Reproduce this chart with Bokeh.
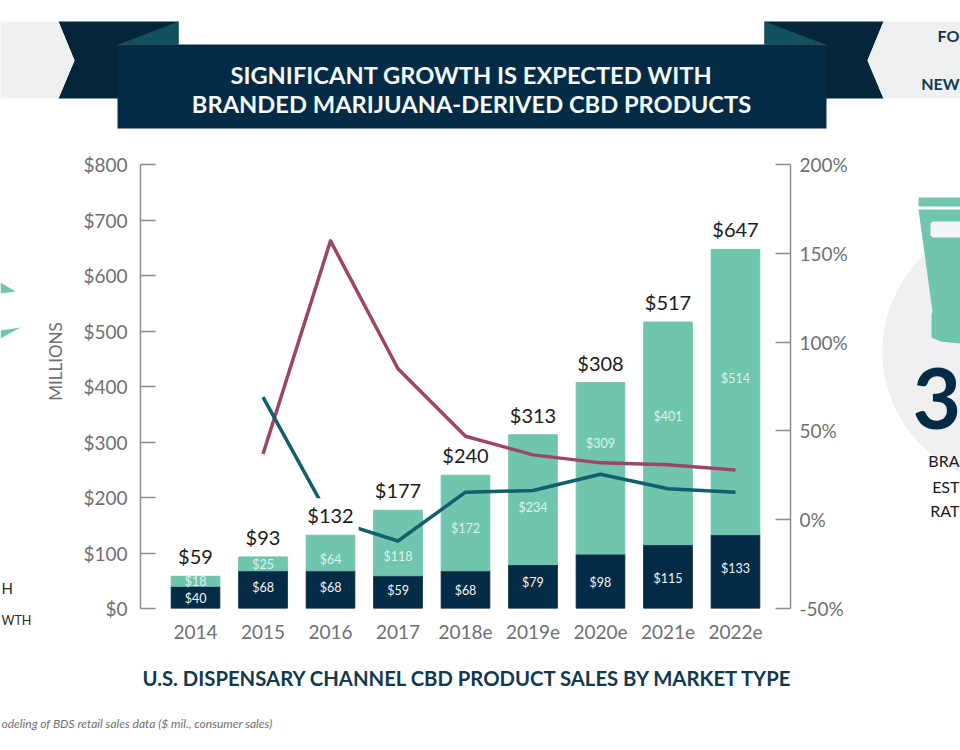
from bokeh.plotting import figure
from bokeh.embed import file_html
from bokeh.resources import INLINE
from bokeh.layouts import column
from bokeh.models import Range1d, LinearAxis, FixedTicker, ColumnDataSource
from bokeh.core.properties import value
import math

years = ["2014", "2015", "2016", "2017", "2018e", "2019e", "2020e", "2021e", "2022e"]
medical = [40, 68, 68, 59, 68, 79, 98, 115, 133]
adult_use = [18, 25, 64, 118, 172, 234, 309, 401, 514]
total_labels = ["$59", "$93", "$132", "$177", "$240", "$313", "$308", "$517", "$647"]
medical_growth = [None, 37, 157, 85, 47, 36.5, 32, 31, 28]
adult_growth = [None, 69, 0, -12, 15.5, 16.4, 25.6, 17.4, 15.5]
left_ticks = [0, 100, 200, 300, 400, 500, 600, 700, 800]
right_ticks = [-50, 0, 50, 100, 150, 200]

# label placement nudges, in pixels
medical_nudge = [1, -2, -2, -2, 1, -4, 1, 2, -3]
adult_nudge = [0, 1, 6, 13, 5, 8, -25, -17, -14]
mask_alpha = [0, 0, 1, 0, 0, 0, 0, 0, 0]

FONT = "Lato"
GREY = "#6f7072"
NAVY = "#042b45"
TEAL = "#6fc5ad"

W, H = 960, 750
L, R, T, B = 140, 170, 164, 142

# ---------- backdrop: infographic furniture, in page pixels ----------
bg = figure(width=W, height=H, output_backend="svg", toolbar_location=None,
            x_range=Range1d(0, W), y_range=Range1d(H, 0), x_axis_type=None, y_axis_type=None,
            min_border=0, outline_line_color=None, background_fill_color="white", border_fill_color="white",
            frame_align=False)
bg.grid.visible = False

def poly(points, color):
    bg.patch([a for a, _ in points], [b for _, b in points], fill_color=color, line_color=None)

def label(x, y, text, size, color, align="left", bold=False, italic=False, angle=0):
    st = "bold" if bold else ("italic" if italic else "normal")
    bg.text([x], [y], text=[text], text_font=value(FONT), text_font_size=f"{size}px", text_color=color,
            text_align=align, text_baseline="middle", text_font_style=st, angle=angle, angle_units="deg")

poly([(58, 21), (178, 21), (178, 44), (118, 44), (118, 98), (58, 98), (74, 60)], "#042638")
poly([(883, 21), (764, 21), (764, 44), (825, 44), (825, 98), (883, 98), (867, 60)], "#042638")
poly([(0, 21), (58, 21), (74, 60), (58, 98), (0, 98)], "#eef0f2")
poly([(883, 21), (960, 21), (960, 98), (883, 98), (867, 60)], "#eef0f2")
poly([(118, 44), (178, 21), (178, 44)], "#12505f")
poly([(825, 44), (764, 21), (764, 44)], "#12505f")
poly([(117, 44), (826, 44), (826, 128), (117, 128)], "#042b45")

poly([(0, 282), (15, 291), (0, 293)], TEAL)
poly([(0, 330), (20, 327), (0, 338)], TEAL)

circle_pts = [(1015 + 133 * math.cos(math.radians(t)), 351 + 133 * math.sin(math.radians(t))) for t in range(90, 271, 3)]
poly(circle_pts, "#eef0f2")
poly([(918, 197), (960, 197), (960, 206), (918, 206)], TEAL)
poly([(918, 209), (960, 209), (960, 343), (940, 341), (931, 337), (931, 314), (932, 311)], TEAL)
poly([(932, 221), (960, 221), (960, 237), (932, 237), (930, 235), (930, 223)], "#f4f5f6")

label(471, 74, "SIGNIFICANT GROWTH IS EXPECTED WITH", 23.7, "#f4f8f8", "center", True)
label(471, 103, "BRANDED MARIJUANA-DERIVED CBD PRODUCTS", 23.7, "#f4f8f8", "center", True)
label(959, 35, "FO", 16, "#0f3a52", "right", True)
label(959, 83, "NEW", 16, "#0f3a52", "right", True)
label(55, 361, "MILLIONS", 17, GREY, "center", False, False, 90)
label(468, 677, "U.S. DISPENSARY CHANNEL CBD PRODUCT SALES BY MARKET TYPE", 20.3, "#12394f", "center", True)
label(1, 723, "odeling of BDS retail sales data ($ mil., consumer sales)", 12, GREY, "left", False, True)
label(1, 587, "H", 15, "#2a2a2a", "left")
label(1, 620, "WTH", 12.5, "#2a2a2a", "left")
label(912, 398, "3", 84, NAVY, "left", True)
label(959, 460, "BRA", 16, "#1b1b1b", "right")
label(959, 486, "EST", 16, "#1b1b1b", "right")
label(959, 510, "RAT", 16, "#1b1b1b", "right")

# ---------- the chart ----------
p = figure(width=W, height=H, output_backend="svg", toolbar_location=None,
           x_range=Range1d(-0.815, 8.815), y_range=Range1d(0, 800),
           min_border_left=L, min_border_right=R, min_border_top=T, min_border_bottom=B,
           outline_line_color=None, background_fill_alpha=0, border_fill_alpha=0,
           margin=(-H, 0, 0, 0), frame_align=False)
p.grid.visible = False
p.extra_y_ranges = {"pct": Range1d(-50, 200)}

xs = list(range(len(years)))
tops = [m + a for m, a in zip(medical, adult_use)]
src = ColumnDataSource(dict(
    x=xs, medical=medical, adult=adult_use, top=tops,
    med_y=[m / 2 for m in medical], ad_y=[m + a / 2 for m, a in zip(medical, adult_use)],
    med_t=[f"${v}" for v in medical], ad_t=[f"${v}" for v in adult_use], tot_t=total_labels,
    med_n=medical_nudge, ad_n=adult_nudge, mask=mask_alpha,
    g_m=[float("nan") if v is None else v for v in medical_growth],
    g_a=[float("nan") if v is None else v for v in adult_growth],
))

p.vbar(x="x", bottom=0, top="medical", width=0.72, color=NAVY, source=src)
p.vbar(x="x", bottom="medical", top="top", width=0.72, color=TEAL, source=src)
p.line("x", "g_m", source=src, y_range_name="pct", color="#9d4569", line_width=3.5, line_join="round")
p.line("x", "g_a", source=src, y_range_name="pct", color="#0f5f6d", line_width=3.5, line_join="round")

p.text("x", "top", text="tot_t", source=src, text_align="center", text_baseline="bottom", y_offset=-3,
       text_font=value(FONT), text_font_size="20px", text_color="#1b1b1b",
       background_fill_color="white", background_fill_alpha="mask", padding=5)
p.text("x", "med_y", text="med_t", source=src, text_align="center", text_baseline="middle", y_offset="med_n",
       text_font=value(FONT), text_font_size="12.5px", text_color="#f2f7f7")
p.text("x", "ad_y", text="ad_t", source=src, text_align="center", text_baseline="middle", y_offset="ad_n",
       text_font=value(FONT), text_font_size="12.5px", text_color="#dff2ec")

ax = p.yaxis[0]
ax.ticker = FixedTicker(ticks=left_ticks)
ax.major_label_overrides = {v: f"${v}" for v in left_ticks}
ax2 = LinearAxis(y_range_name="pct", ticker=FixedTicker(ticks=right_ticks),
                 major_label_overrides={v: f"{v}%" for v in right_ticks})
p.add_layout(ax2, "right")
for a, s in ((ax, 13), (ax2, 9)):
    a.major_tick_in = 15
    a.major_tick_out = 0
    a.minor_tick_line_color = None
    a.axis_line_color = "#8c8d8f"
    a.axis_line_width = 1.5
    a.major_tick_line_color = "#8c8d8f"
    a.major_tick_line_width = 1.5
    a.major_label_text_font = FONT
    a.major_label_text_font_size = "19px"
    a.major_label_text_color = GREY
    a.major_label_standoff = s
xa = p.xaxis[0]
xa.ticker = FixedTicker(ticks=xs)
xa.major_label_overrides = {i: y for i, y in enumerate(years)}
xa.axis_line_color = None
xa.major_tick_line_color = None
xa.minor_tick_line_color = None
xa.major_label_standoff = 10
xa.major_label_text_font = FONT
xa.major_label_text_font_size = "19px"
xa.major_label_text_color = GREY

open("out.html", "w").write(file_html(column(bg, p, spacing=0), INLINE))
